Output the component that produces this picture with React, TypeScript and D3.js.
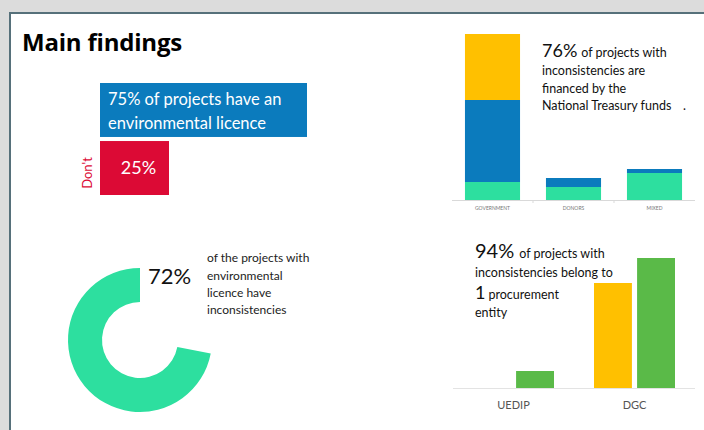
import React from 'react';
import * as d3 from 'd3';

// licence split
const licenceLabels = ['Have', "Don't"];
const licenceValues = [75, 25];

// funding source of projects with inconsistencies (stacked)
const fundingCategories = ['GOVERNMENT', 'DONORS', 'MIXED'];
const fundingKeys = ['green', 'blue', 'yellow'];
const fundingGreen = [18, 13, 27];
const fundingBlue = [82, 9, 4];
const fundingYellow = [66, 0, 0];

// donut
const inconsistentShare = 72;

// procurement entity
const entityCategories = ['UEDIP', 'DGC'];
const entitySeries = ['yellow', 'green'];
const entityYellow = [0, 105];
const entityGreen = [17, 130];

const YELLOW = '#ffc000';
const BLUE = '#0b7bbd';
const MINT = '#2ddf9f';
const RED = '#dc0a35';
const GREEN = '#5aba48';
const FONT = 'Lato, "Open Sans", sans-serif';

const LicenceBars = () => {
  const x = d3.scaleLinear().domain([0, 100]).range([100, 376]);
  const y = d3.scaleBand().domain(licenceLabels).range([83, 195]).paddingInner(0.07);
  const colors = [BLUE, RED];
  return (
    <g>
      {licenceLabels.map((l, i) => (
        <rect key={l} x={x(0)} y={y(l)} width={x(licenceValues[i]) - x(0)} height={y.bandwidth()} fill={colors[i]} />
      ))}
      <text x={x(0) + 8} y={y('Have')! + 22} fill="#fff" fontSize={16.5} fontFamily={FONT}>
        <tspan>{licenceValues[0]}% of projects have an</tspan>
        <tspan x={x(0) + 8} dy={24}>environmental licence</tspan>
      </text>
      <text x={(x(0) + x(licenceValues[1])) / 2 + 4} y={y("Don't")! + y.bandwidth() / 2 + 6} fill="#fff" fontSize={18}
        fontFamily={FONT} textAnchor="middle">{licenceValues[1]}%</text>
      <text transform={`translate(92,${y("Don't")! + y.bandwidth() / 2 + 5}) rotate(-90)`} fill={RED} fontSize={13}
        fontFamily={FONT} textAnchor="middle">Don't</text>
    </g>
  );
};

const FundingChart = () => {
  const rows = fundingCategories.map((c, i) => ({
    cat: c, green: fundingGreen[i], blue: fundingBlue[i], yellow: fundingYellow[i],
  }));
  const stack = d3.stack<any>().keys(fundingKeys)(rows);
  const x = d3.scaleBand().domain(fundingCategories).range([452, 695]).paddingInner(0.32).paddingOuter(0.16);
  const y = d3.scaleLinear().domain([0, 166]).range([200, 34]);
  const colors: Record<string, string> = { green: MINT, blue: BLUE, yellow: YELLOW };
  return (
    <g>
      {stack.map((layer) => (
        <g key={layer.key} fill={colors[layer.key]}>
          {layer.map((d, i) => (
            <rect key={i} x={x(fundingCategories[i])} y={y(d[1])} width={x.bandwidth()}
              height={y(d[0]) - y(d[1])} />
          ))}
        </g>
      ))}
      <line x1={452} x2={695} y1={200.5} y2={200.5} stroke="#d9d9d9" />
      {[1, 2].map((k) => (
        <line key={k} x1={452 + k * (243 / 3)} x2={452 + k * (243 / 3)} y1={200} y2={203} stroke="#d9d9d9" />
      ))}
      {fundingCategories.map((c) => (
        <text key={c} x={x(c)! + x.bandwidth() / 2} y={210} fontSize={5} fill="#777" textAnchor="middle"
          fontFamily={FONT}>{c}</text>
      ))}
      <text x={542} y={57} fontFamily={FONT} fill="#111">
        <tspan fontSize={18}>76%</tspan>
        <tspan fontSize={12.5} dx={4}>of projects with</tspan>
        <tspan x={542} y={75} fontSize={12.5}>inconsistencies are</tspan>
        <tspan x={542} y={93} fontSize={12.5}>financed by the</tspan>
        <tspan x={542} y={110} fontSize={12.5}>National Treasury funds</tspan>
        <tspan x={683} y={110} fontSize={12.5}>.</tspan>
      </text>
    </g>
  );
};

const Donut = () => {
  const cx = 140;
  const cy = 340;
  const share = d3.scaleLinear().domain([0, 100]).range([0, 2 * Math.PI]);
  const arc = d3.arc<any>().innerRadius(38).outerRadius(72);
  const path = arc({ startAngle: 2 * Math.PI - share(inconsistentShare), endAngle: 2 * Math.PI }) || '';
  return (
    <g>
      <path d={path} transform={`translate(${cx},${cy})`} fill={MINT} />
      <text x={148} y={284} fontSize={22} fill="#111" fontFamily={FONT}>{inconsistentShare}%</text>
      <text x={207} y={262} fontSize={12} fill="#222" fontFamily={FONT}>
        <tspan>of the projects with</tspan>
        <tspan x={207} y={280}>environmental</tspan>
        <tspan x={207} y={297}>licence have</tspan>
        <tspan x={207} y={314}>inconsistencies</tspan>
      </text>
    </g>
  );
};

const EntityChart = () => {
  const x0 = d3.scaleBand().domain(entityCategories).range([453, 695]);
  const x1 = d3.scaleBand().domain(entitySeries).range([0, 81]).paddingInner(0.12);
  const y = d3.scaleLinear().domain([0, 130]).range([388, 258]);
  const vals: Record<string, number[]> = { yellow: entityYellow, green: entityGreen };
  const colors: Record<string, string> = { yellow: YELLOW, green: GREEN };
  return (
    <g>
      {entityCategories.map((c, i) => (
        <g key={c} transform={`translate(${x0(c)! + x0.bandwidth() / 2 - 40.5},0)`}>
          {entitySeries.map((s) => vals[s][i] > 0 && (
            <rect key={s} x={x1(s)} y={y(vals[s][i])} width={x1.bandwidth()} height={y(0) - y(vals[s][i])}
              fill={colors[s]} />
          ))}
        </g>
      ))}
      <line x1={453} x2={695} y1={388.5} y2={388.5} stroke="#e3e3e3" />
      {entityCategories.map((c) => (
        <text key={c} x={x0(c)! + x0.bandwidth() / 2} y={409} fontSize={11} fill="#555" textAnchor="middle"
          fontFamily={FONT}>{c}</text>
      ))}
      <text x={475} y={258} fontFamily={FONT} fill="#111">
        <tspan fontSize={20}>94%</tspan>
        <tspan fontSize={12.5} dx={5}>of projects with</tspan>
        <tspan x={475} y={277} fontSize={12.5}>inconsistencies belong to</tspan>
        <tspan x={475} y={299} fontSize={18}>1</tspan>
        <tspan fontSize={12.5} dx={3}>procurement</tspan>
        <tspan x={475} y={317} fontSize={12.5}>entity</tspan>
      </text>
    </g>
  );
};

export default function App() {
  return (
    <svg width={704} height={430} style={{ position: 'absolute', left: 0, top: 0 }}>
      <rect width={704} height={430} fill="#dcdcdc" />
      <rect x={10} y={13} width={720} height={440} fill="#fff" stroke="#56707a" strokeWidth={2} />
      <text x={22} y={51} fontSize={24} fontWeight="bold" fontFamily='"Open Sans", sans-serif' fill="#000"
        letterSpacing={-0.2}>Main findings</text>
      <LicenceBars />
      <FundingChart />
      <Donut />
      <EntityChart />
    </svg>
  );
}
